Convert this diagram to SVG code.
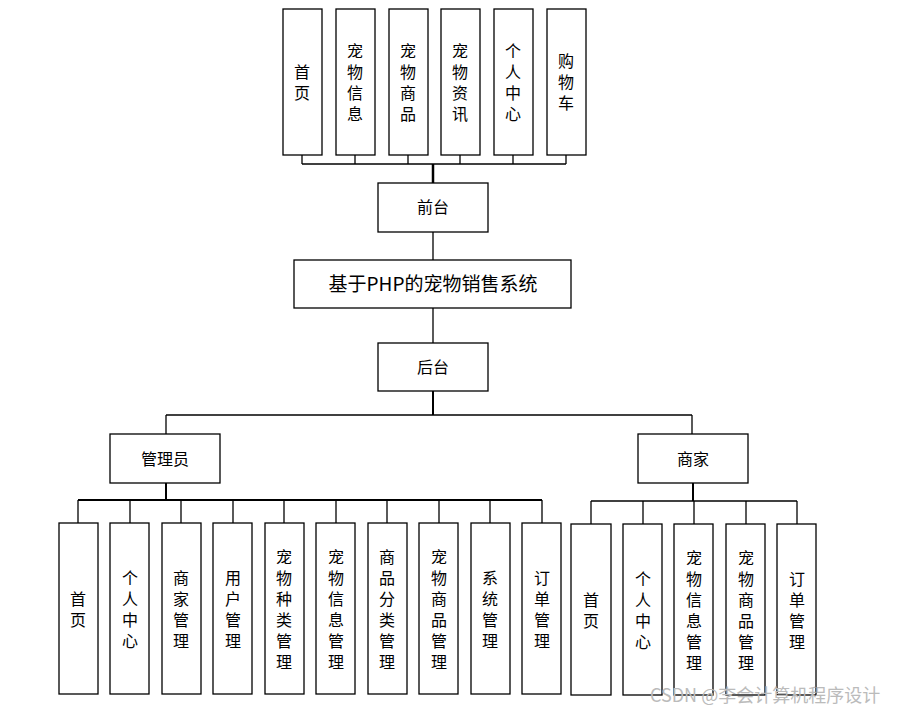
<svg xmlns="http://www.w3.org/2000/svg" width="916" height="714" viewBox="0 0 916 714">
<style>
rect{fill:#fff;stroke:#000;stroke-width:1.3}
text{font-family:"Noto Sans CJK SC","Liberation Sans",sans-serif;font-size:16px;fill:#000;text-anchor:middle}
.c line{stroke:#000;stroke-width:1.3}
.wm{font-size:18px;fill:#bbb;text-anchor:start}
</style>
<rect width="916" height="714" style="fill:#fff;stroke:none"/>
<g class="c">
<line x1="302" y1="164" x2="566" y2="164"/>
<line x1="302" y1="155" x2="302" y2="164"/><line x1="355" y1="155" x2="355" y2="164"/><line x1="408" y1="155" x2="408" y2="164"/><line x1="460" y1="155" x2="460" y2="164"/><line x1="513" y1="155" x2="513" y2="164"/><line x1="566" y1="155" x2="566" y2="164"/>
<line x1="433" y1="164" x2="433" y2="183" style="stroke-width:2.5"/>
<line x1="433" y1="232" x2="433" y2="260"/>
<line x1="433" y1="308" x2="433" y2="343"/>
<line x1="433" y1="391" x2="433" y2="415" style="stroke-width:2"/>
<line x1="166" y1="415" x2="692" y2="415"/>
<line x1="166" y1="415" x2="166" y2="434"/><line x1="692" y1="415" x2="692" y2="434"/>
<line x1="166" y1="483" x2="166" y2="500" style="stroke-width:2"/>
<line x1="78" y1="500" x2="542" y2="500" style="stroke-width:2"/>
<line x1="78" y1="500" x2="78" y2="523"/><line x1="130" y1="500" x2="130" y2="523"/><line x1="181" y1="500" x2="181" y2="523"/><line x1="233" y1="500" x2="233" y2="523"/><line x1="284" y1="500" x2="284" y2="523"/><line x1="336" y1="500" x2="336" y2="523"/><line x1="387" y1="500" x2="387" y2="523"/><line x1="439" y1="500" x2="439" y2="523"/><line x1="490" y1="500" x2="490" y2="523"/><line x1="542" y1="500" x2="542" y2="523"/>
<line x1="693" y1="483" x2="693" y2="501" style="stroke-width:2"/>
<line x1="591" y1="501" x2="797" y2="501"/>
<line x1="591" y1="501" x2="591" y2="524"/><line x1="643" y1="501" x2="643" y2="524"/><line x1="694" y1="501" x2="694" y2="524"/><line x1="746" y1="501" x2="746" y2="524"/><line x1="797" y1="501" x2="797" y2="524"/>
</g>
<g id="f1"><rect x="283" y="9" width="39" height="146"/><text x="302"><tspan x="302" y="78">首</tspan><tspan x="302" y="99">页</tspan></text></g>
<g id="f2"><rect x="336" y="9" width="39" height="146"/><text><tspan x="355" y="57">宠</tspan><tspan x="355" y="78">物</tspan><tspan x="355" y="99">信</tspan><tspan x="355" y="120">息</tspan></text></g>
<g id="f3"><rect x="389" y="9" width="39" height="146"/><text><tspan x="408" y="57">宠</tspan><tspan x="408" y="78">物</tspan><tspan x="408" y="99">商</tspan><tspan x="408" y="120">品</tspan></text></g>
<g id="f4"><rect x="441" y="9" width="39" height="146"/><text><tspan x="460" y="57">宠</tspan><tspan x="460" y="78">物</tspan><tspan x="460" y="99">资</tspan><tspan x="460" y="120">讯</tspan></text></g>
<g id="f5"><rect x="494" y="9" width="39" height="146"/><text><tspan x="513" y="57">个</tspan><tspan x="513" y="78">人</tspan><tspan x="513" y="99">中</tspan><tspan x="513" y="120">心</tspan></text></g>
<g id="f6"><rect x="547" y="9" width="39" height="146"/><text><tspan x="566" y="67">购</tspan><tspan x="566" y="88">物</tspan><tspan x="566" y="109">车</tspan></text></g>
<g id="qt"><rect x="378" y="183" width="110" height="49"/><text x="433" y="213">前台</text></g>
<g id="sys"><rect x="294" y="260" width="277" height="48"/><text x="433" y="291" style="font-size:19px">基于PHP的宠物销售系统</text></g>
<g id="ht"><rect x="378" y="343" width="110" height="48"/><text x="433" y="373">后台</text></g>
<g id="admin"><rect x="110" y="434" width="110" height="49"/><text x="165" y="465">管理员</text></g>
<g id="shop"><rect x="638" y="434" width="110" height="49"/><text x="693" y="465">商家</text></g>
<g id="a1"><rect x="59" y="523" width="39" height="171"/><text><tspan x="78" y="605">首</tspan><tspan x="78" y="626">页</tspan></text></g>
<g id="a2"><rect x="110" y="523" width="39" height="171"/><text><tspan x="130" y="584">个</tspan><tspan x="130" y="605">人</tspan><tspan x="130" y="626">中</tspan><tspan x="130" y="647">心</tspan></text></g>
<g id="a3"><rect x="162" y="523" width="39" height="171"/><text><tspan x="181" y="584">商</tspan><tspan x="181" y="605">家</tspan><tspan x="181" y="626">管</tspan><tspan x="181" y="647">理</tspan></text></g>
<g id="a4"><rect x="213" y="523" width="39" height="171"/><text><tspan x="233" y="584">用</tspan><tspan x="233" y="605">户</tspan><tspan x="233" y="626">管</tspan><tspan x="233" y="647">理</tspan></text></g>
<g id="a5"><rect x="265" y="523" width="39" height="171"/><text><tspan x="284" y="563">宠</tspan><tspan x="284" y="584">物</tspan><tspan x="284" y="605">种</tspan><tspan x="284" y="626">类</tspan><tspan x="284" y="647">管</tspan><tspan x="284" y="668">理</tspan></text></g>
<g id="a6"><rect x="316" y="523" width="39" height="171"/><text><tspan x="336" y="563">宠</tspan><tspan x="336" y="584">物</tspan><tspan x="336" y="605">信</tspan><tspan x="336" y="626">息</tspan><tspan x="336" y="647">管</tspan><tspan x="336" y="668">理</tspan></text></g>
<g id="a7"><rect x="368" y="523" width="39" height="171"/><text><tspan x="387" y="563">商</tspan><tspan x="387" y="584">品</tspan><tspan x="387" y="605">分</tspan><tspan x="387" y="626">类</tspan><tspan x="387" y="647">管</tspan><tspan x="387" y="668">理</tspan></text></g>
<g id="a8"><rect x="419" y="523" width="39" height="171"/><text><tspan x="439" y="563">宠</tspan><tspan x="439" y="584">物</tspan><tspan x="439" y="605">商</tspan><tspan x="439" y="626">品</tspan><tspan x="439" y="647">管</tspan><tspan x="439" y="668">理</tspan></text></g>
<g id="a9"><rect x="471" y="523" width="39" height="171"/><text><tspan x="490" y="584">系</tspan><tspan x="490" y="605">统</tspan><tspan x="490" y="626">管</tspan><tspan x="490" y="647">理</tspan></text></g>
<g id="a10"><rect x="522" y="523" width="39" height="171"/><text><tspan x="542" y="584">订</tspan><tspan x="542" y="605">单</tspan><tspan x="542" y="626">管</tspan><tspan x="542" y="647">理</tspan></text></g>
<g id="s1"><rect x="571" y="524" width="40" height="171"/><text><tspan x="591" y="606">首</tspan><tspan x="591" y="627">页</tspan></text></g>
<g id="s2"><rect x="623" y="524" width="39" height="171"/><text><tspan x="643" y="585">个</tspan><tspan x="643" y="606">人</tspan><tspan x="643" y="627">中</tspan><tspan x="643" y="648">心</tspan></text></g>
<g id="s3"><rect x="674" y="524" width="39" height="171"/><text><tspan x="694" y="564">宠</tspan><tspan x="694" y="585">物</tspan><tspan x="694" y="606">信</tspan><tspan x="694" y="627">息</tspan><tspan x="694" y="648">管</tspan><tspan x="694" y="669">理</tspan></text></g>
<g id="s4"><rect x="726" y="524" width="39" height="171"/><text><tspan x="746" y="564">宠</tspan><tspan x="746" y="585">物</tspan><tspan x="746" y="606">商</tspan><tspan x="746" y="627">品</tspan><tspan x="746" y="648">管</tspan><tspan x="746" y="669">理</tspan></text></g>
<g id="s5"><rect x="777" y="524" width="39" height="171"/><text><tspan x="797" y="585">订</tspan><tspan x="797" y="606">单</tspan><tspan x="797" y="627">管</tspan><tspan x="797" y="648">理</tspan></text></g>
<text class="wm" x="650" y="702">CSDN @李会计算机程序设计</text>
</svg>
